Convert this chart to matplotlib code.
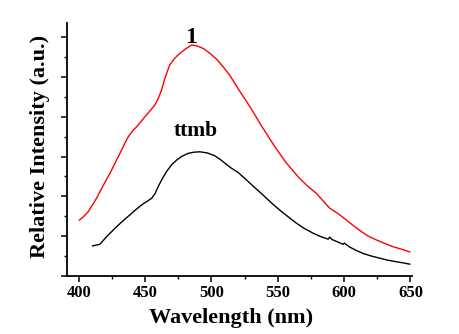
import numpy as np
from matplotlib import pyplot as plt
from matplotlib.ticker import MultipleLocator

# emission spectra (arbitrary units)
wl_1 = [400.5, 403.5, 407.2, 413.5, 418.5, 423.6, 431.1, 435, 437.4, 440.5, 443.7, 451.2,
        455, 457.5, 460, 462.5, 465.5, 468.7, 472.5, 476.3, 481, 485.1, 488.8, 494, 498.9,
        504, 508.9, 514, 521.5, 529, 538, 547.8, 556, 565.4, 572, 579.2, 589.2, 596, 601.8,
        607, 613.1, 618, 624.4, 630, 636.9, 643, 649.5]
int_1 = [1.40, 1.48, 1.61, 1.95, 2.27, 2.58, 3.08, 3.35, 3.50, 3.64, 3.75, 4.05,
         4.20, 4.30, 4.46, 4.68, 5.02, 5.31, 5.48, 5.60, 5.72, 5.81, 5.79, 5.72, 5.60,
         5.45, 5.26, 5.04, 4.64, 4.26, 3.76, 3.25, 2.86, 2.49, 2.27, 2.07, 1.70, 1.55, 1.40,
         1.26, 1.11, 1.00, 0.90, 0.82, 0.73, 0.67, 0.60]

wl_ttmb = [410.5, 416, 421, 427.3, 433, 438.6, 443, 448.6, 452, 455, 457.5, 459.9, 463,
           466.2, 470, 473.8, 478, 482.5, 487, 491.3, 497, 502.6, 507, 511.4, 515, 520.2,
           526.5, 533, 539, 545, 551.6, 558, 564.2, 570, 576.7, 582, 588, 589.2, 591, 596,
           599.2, 600.2, 604.3, 609, 614.3, 620, 626.9, 633, 639.5, 645, 649.5]
int_ttmb = [0.75, 0.79, 0.98, 1.19, 1.37, 1.53, 1.66, 1.81, 1.88, 1.95, 2.06, 2.24, 2.44,
            2.62, 2.79, 2.91, 3.01, 3.08, 3.11, 3.12, 3.09, 3.02, 2.92, 2.80, 2.71, 2.60,
            2.41, 2.21, 2.03, 1.84, 1.65, 1.48, 1.32, 1.19, 1.07, 0.99, 0.92, 0.97, 0.91,
            0.84, 0.79, 0.82, 0.72, 0.64, 0.56, 0.50, 0.44, 0.39, 0.35, 0.32, 0.29]

plt.rcParams['font.family'] = 'Liberation Serif'
plt.rcParams['font.weight'] = 'bold'

fig = plt.figure(figsize=(4.59, 3.34), dpi=100)
ax = fig.add_axes([0.1453, 0.1746, 0.7517, 0.7574])

ax.plot(wl_1, int_1, color='red', linewidth=1.0)
ax.plot(wl_ttmb, int_ttmb, color='black', linewidth=1.0)

ax.text(485, 5.85, '1', fontsize=17, fontweight='bold', ha='center', va='baseline')
ax.text(488.3, 3.65, 'ttmb', fontsize=15.5, fontweight='bold', ha='center', va='center')

ax.set_xlim(391, 651)
ax.set_ylim(0, 6.37)
ax.xaxis.set_major_locator(MultipleLocator(50))
ax.xaxis.set_minor_locator(MultipleLocator(25))
ax.yaxis.set_major_locator(MultipleLocator(1))
ax.yaxis.set_minor_locator(MultipleLocator(0.5))
ax.set_yticklabels([])

ax.spines['top'].set_visible(False)
ax.spines['right'].set_visible(False)
for s in ['left', 'bottom']:
    ax.spines[s].set_linewidth(1.3)

ax.tick_params(which='major', direction='out', length=4, width=1.1, labelsize=12, pad=3)
ax.tick_params(which='minor', direction='out', length=2.4, width=1.0)
for lab in ax.get_xticklabels():
    lab.set_fontweight('bold')

ax.set_xlabel('Wavelength (nm)', fontsize=16, fontweight='bold')
ax.set_ylabel('Relative Intensity (a.u.)', fontsize=16, fontweight='bold')
ax.xaxis.set_label_coords(0.476, -0.128)
ax.yaxis.set_label_coords(-0.048, 0.51)

fig.savefig('out.png', dpi=100)
